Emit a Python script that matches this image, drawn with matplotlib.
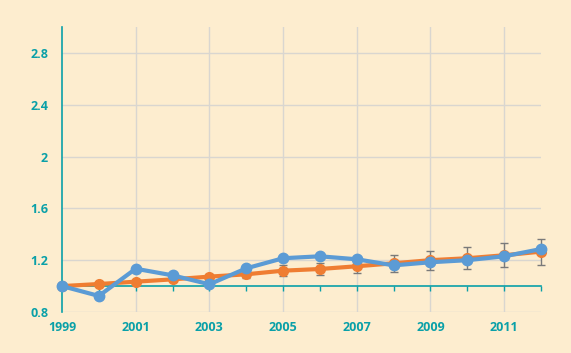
import matplotlib.pyplot as plt

years = list(range(1999, 2013))
orange_vals = [1.0, 1.016, 1.034, 1.052, 1.073, 1.091, 1.119, 1.132, 1.153, 1.176, 1.20, 1.215, 1.238, 1.266]
orange_err = [0.0, 0.008, 0.012, 0.016, 0.02, 0.03, 0.042, 0.048, 0.055, 0.064, 0.072, 0.085, 0.093, 0.10]
blue_vals = [1.0, 0.924, 1.134, 1.083, 1.014, 1.137, 1.215, 1.230, 1.207, 1.16, 1.184, 1.20, 1.23, 1.286]
y_ticks = [0.8, 1.2, 1.6, 2.0, 2.4, 2.8]
y_labels = ["0.8", "1.2", "1.6", "2", "2.4", "2.8"]
x_label_years = [1999, 2001, 2003, 2005, 2007, 2009, 2011]

bg = "#fdedcf"
teal = "#0aa0a8"
grid_c = "#d9d6d0"
orange = "#ef7d32"
blue = "#5b9bd5"

plt.rcParams["font.family"] = ["Open Sans", "DejaVu Sans"]

fig = plt.figure(figsize=(5.71, 3.53), dpi=100, facecolor=bg)
ax = fig.add_axes([62 / 571, 41 / 353, 479 / 571, 285 / 353])
ax.set_facecolor(bg)

ax.set_xlim(1999, 2012)
ax.set_ylim(0.8, 3.0)

# grid
for yv in y_ticks:
    ax.axhline(yv, color=grid_c, lw=1, zorder=0)
for xv in x_label_years[1:]:
    ax.axvline(xv, color=grid_c, lw=1, zorder=0)

for s in ["top", "right"]:
    ax.spines[s].set_visible(False)
ax.spines["left"].set_color(teal)
ax.spines["left"].set_linewidth(1.2)
ax.spines["bottom"].set_position(("data", 1.0))
ax.spines["bottom"].set_color(teal)
ax.spines["bottom"].set_linewidth(1.2)

ax.set_xticks(years)
ax.tick_params(axis="x", direction="out", length=3.5, width=1, color=teal, labelbottom=False)
ax.set_yticks(y_ticks)
ax.set_yticklabels(y_labels)
ax.tick_params(axis="y", length=0, pad=10, labelcolor=teal, labelsize=9)
for t in ax.get_yticklabels():
    t.set_fontweight("bold")

sec = ax.secondary_xaxis("bottom")
sec.set_xticks(x_label_years)
sec.set_xticklabels([str(y) for y in x_label_years])
sec.tick_params(length=0, pad=6.5, labelcolor=teal, labelsize=9)
sec.spines["bottom"].set_visible(False)
for t in sec.get_xticklabels():
    t.set_fontweight("bold")

ax.errorbar(years, orange_vals, yerr=orange_err, color=orange, lw=3, marker="o", ms=7,
            ecolor="#7a7a7a", elinewidth=1, capsize=3, capthick=1, zorder=3, clip_on=False)
ax.plot(years, blue_vals, color=blue, lw=3, marker="o", ms=7.5, zorder=4, clip_on=False)

fig.savefig("out.png", dpi=100, facecolor=bg)
